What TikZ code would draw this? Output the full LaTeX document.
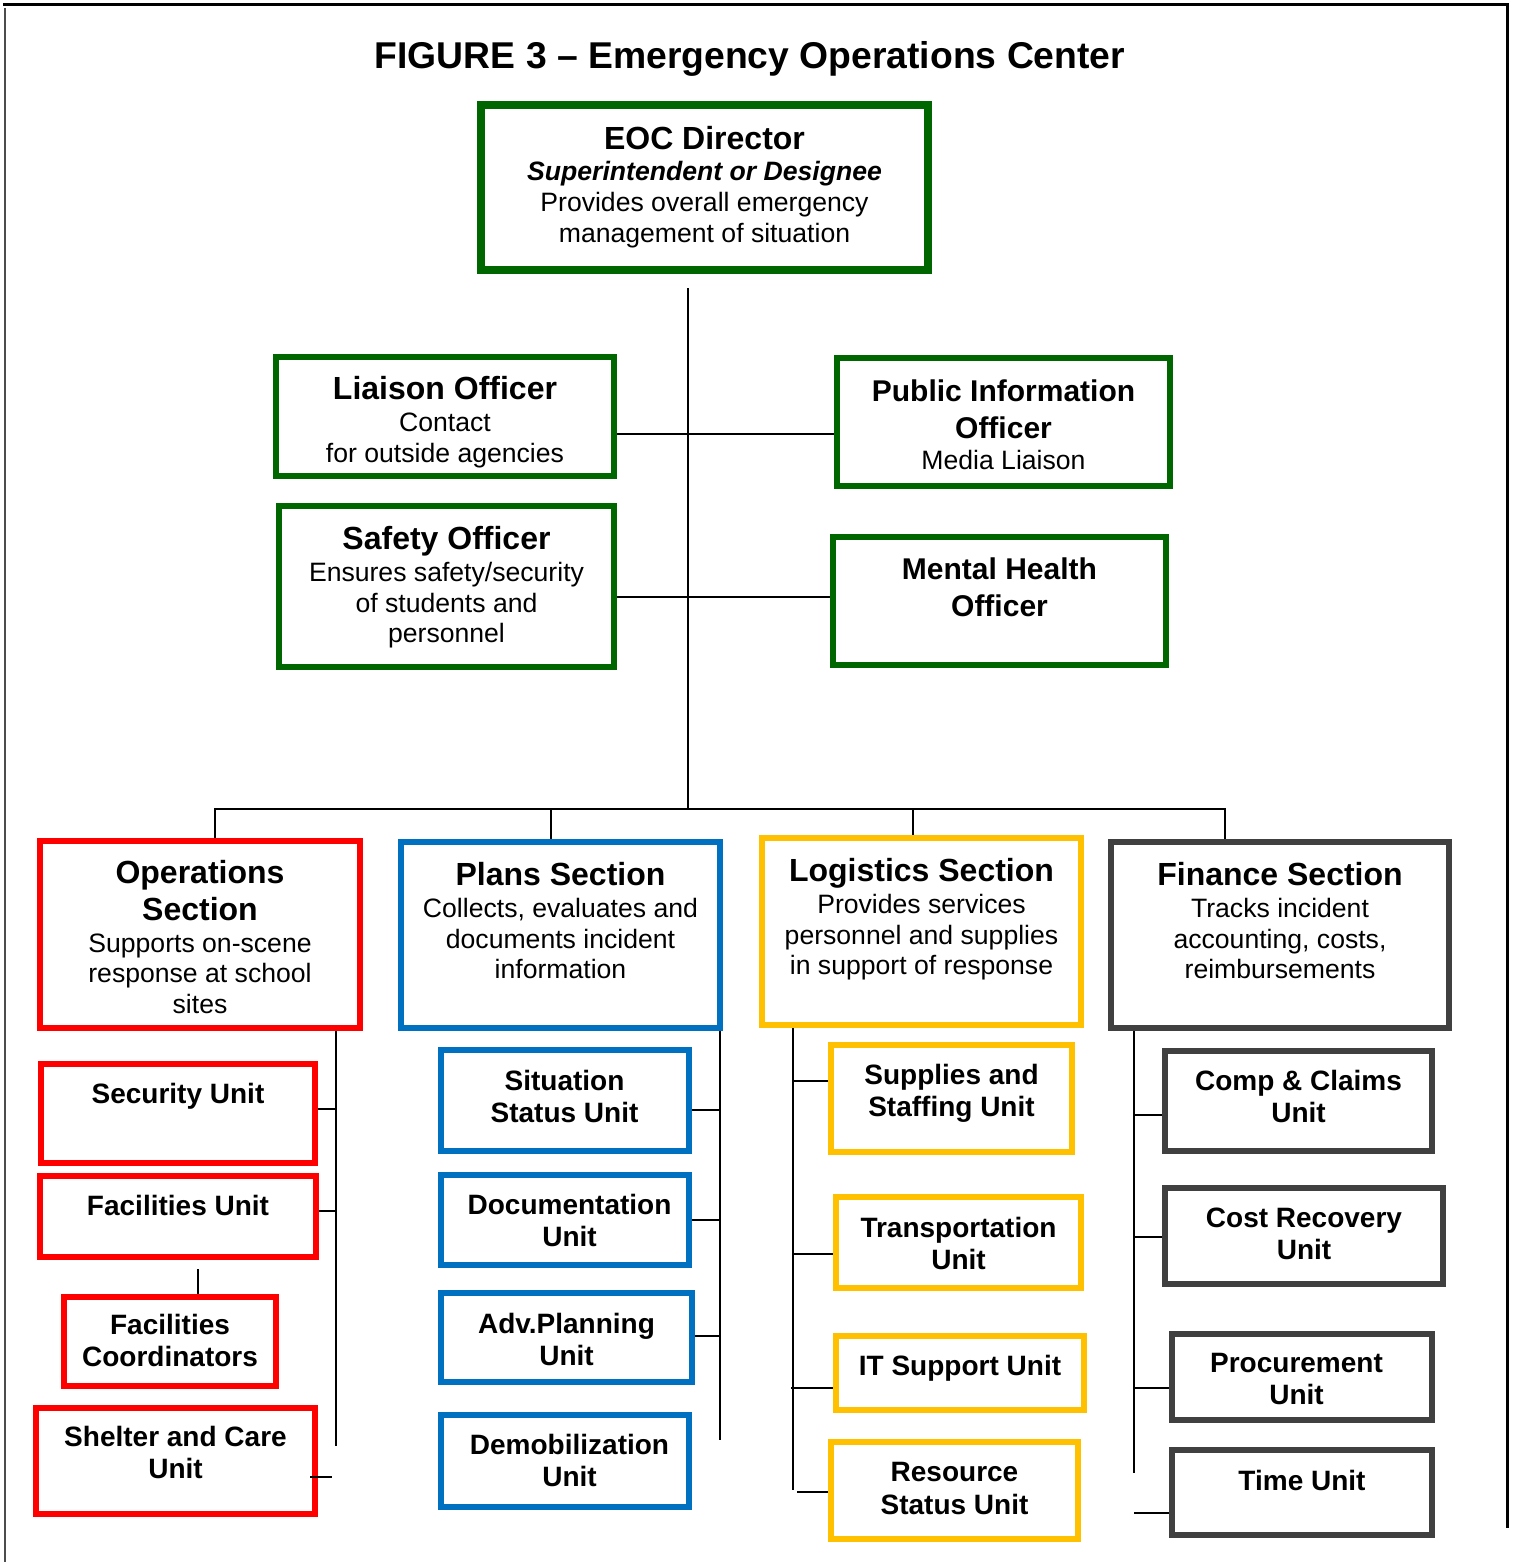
\documentclass[tikz,border=0pt]{standalone}
\usepackage{fontspec}
\setmainfont{Liberation Sans}
\definecolor{cgreen}{RGB}{0,102,0}
\definecolor{cred}{RGB}{255,0,0}
\definecolor{cblue}{RGB}{0,112,192}
\definecolor{cyellow}{RGB}{255,192,0}
\definecolor{cgray}{RGB}{64,64,64}
\newcommand\lnH[1]{{\fontsize{32}{32}\selectfont\bfseries\rule[-7pt]{0pt}{36.8pt}#1}}
\newcommand\lnh[1]{{\fontsize{30}{30}\selectfont\bfseries\rule[-7pt]{0pt}{36.8pt}#1}}
\newcommand\lnB[1]{{\fontsize{26.6}{26.6}\selectfont\rule[-5.85pt]{0pt}{30.6pt}#1}}
\newcommand\lnI[1]{{\fontsize{26.6}{26.6}\selectfont\bfseries\itshape\rule[-5.85pt]{0pt}{30.6pt}#1}}
\newcommand\lnU[1]{{\fontsize{28}{28}\selectfont\bfseries\rule[-6.16pt]{0pt}{32.2pt}#1}}
\newcommand\stk[1]{\vbox{\offinterlineskip\halign{\hfil##\hfil\cr#1\crcr}}}
\tikzset{
  box/.style={draw=#1, line width=6pt, inner sep=0pt, rectangle},
  txt/.style={anchor=north, inner sep=0pt},
  conn/.style={draw=black, line width=2pt},
}
\begin{document}
\begin{tikzpicture}[x=1pt,y=-1pt]
\useasboundingbox (0,0) rectangle (1515,1562);
% frame
\draw[line width=3pt] (3,5) -- (1509,5);
\draw[line width=2.5pt] (1507.5,5) -- (1507.5,1528);
\draw[line width=1.5pt, draw=black!70] (5,8) -- (5,1562);
% title
\node[anchor=base, inner sep=0pt, font=\fontsize{37.3}{40}\selectfont\bfseries] (title) at (750,69) {FIGURE 3 -- Emergency Operations Center};

% top-level boxes
\node[box=cgreen, line width=8pt, minimum width=447, minimum height=165] (eoc) at (704.5,187.5) {};
\node[txt] (eoc-t) at (704.5,119.2) {\stk{\lnH{EOC Director}\cr\lnI{Superintendent or Designee}\cr\lnB{Provides overall emergency}\cr\lnB{management of situation}}};

\node[box=cgreen, minimum width=338, minimum height=119] (liaison) at (445,416.5) {};
\node[txt] (liaison-t) at (445,369.7) {\stk{\lnH{Liaison Officer}\cr\lnB{Contact}\cr\lnB{for outside agencies}}};

\node[box=cgreen, minimum width=333, minimum height=128] (pio) at (1003.5,422) {};
\node[txt] (pio-t) at (1003.5,371.2) {\stk{\lnh{Public Information}\cr\lnh{Officer}\cr\lnB{Media Liaison}}};

\node[box=cgreen, minimum width=335, minimum height=161] (safety) at (446.5,586.5) {};
\node[txt] (safety-t) at (446.5,519.7) {\stk{\lnH{Safety Officer}\cr\lnB{Ensures safety/security}\cr\lnB{of students and}\cr\lnB{personnel}}};

\node[box=cgreen, minimum width=333, minimum height=128] (mh) at (999.5,601) {};
\node[txt] (mh-t) at (999.5,549.7) {\stk{\lnh{Mental Health}\cr\lnh{Officer}}};

% sections
\node[box=cred, minimum width=320, minimum height=187] (ops) at (200,934.5) {};
\node[txt] (ops-t) at (200,853.6) {\stk{\lnH{Operations}\cr\lnH{Section}\cr\lnB{Supports on-scene}\cr\lnB{response at school}\cr\lnB{sites}}};

\node[box=cblue, minimum width=319, minimum height=186] (plans) at (560.5,935) {};
\node[txt] (plans-t) at (560.5,855.7) {\stk{\lnH{Plans Section}\cr\lnB{Collects, evaluates and}\cr\lnB{documents incident}\cr\lnB{information}}};

\node[box=cyellow, minimum width=319, minimum height=187] (log) at (921.5,931.5) {};
\node[txt] (log-t) at (921.5,851.7) {\stk{\lnH{Logistics Section}\cr\lnB{Provides services}\cr\lnB{personnel and supplies}\cr\lnB{in support of response}}};

\node[box=cgray, minimum width=338, minimum height=186] (fin) at (1280,935) {};
\node[txt] (fin-t) at (1280,855.7) {\stk{\lnH{Finance Section}\cr\lnB{Tracks incident}\cr\lnB{accounting, costs,}\cr\lnB{reimbursements}}};

% operations units
\node[box=cred, minimum width=274, minimum height=99] (security) at (178,1113.5) {};
\node[txt] (security-t) at (178,1077) {\stk{\lnU{Security Unit}}};
\node[box=cred, minimum width=276, minimum height=81] (facil) at (178,1216.5) {};
\node[txt] (facil-t) at (178,1189) {\stk{\lnU{Facilities Unit}}};
\node[box=cred, minimum width=212, minimum height=89] (faccoord) at (170,1341.5) {};
\node[txt] (faccoord-t) at (170,1308) {\stk{\lnU{Facilities}\cr\lnU{Coordinators}}};
\node[box=cred, minimum width=279, minimum height=106] (shelter) at (175.5,1461) {};
\node[txt] (shelter-t) at (175.5,1420.2) {\stk{\lnU{Shelter and Care}\cr\lnU{Unit}}};

% plans units
\node[box=cblue, minimum width=248, minimum height=101] (situ) at (565,1100.5) {};
\node[txt] (situ-t) at (564.5,1064) {\stk{\lnU{Situation}\cr\lnU{Status Unit}}};
\node[box=cblue, minimum width=248, minimum height=90] (docu) at (565,1220) {};
\node[txt] (docu-t) at (569.5,1188) {\stk{\lnU{Documentation}\cr\lnU{Unit}}};
\node[box=cblue, minimum width=251, minimum height=89] (advp) at (566.5,1337.5) {};
\node[txt] (advp-t) at (566.5,1307) {\stk{\lnU{Adv.Planning}\cr\lnU{Unit}}};
\node[box=cblue, minimum width=248, minimum height=92] (demob) at (565,1461) {};
\node[txt] (demob-t) at (569.5,1428) {\stk{\lnU{Demobilization}\cr\lnU{Unit}}};

% logistics units
\node[box=cyellow, minimum width=241, minimum height=107] (supp) at (951.5,1098.5) {};
\node[txt] (supp-t) at (951.5,1058) {\stk{\lnU{Supplies and}\cr\lnU{Staffing Unit}}};
\node[box=cyellow, minimum width=245, minimum height=91] (trans) at (958.5,1242.5) {};
\node[txt] (trans-t) at (958.5,1211.2) {\stk{\lnU{Transportation}\cr\lnU{Unit}}};
\node[box=cyellow, minimum width=248, minimum height=74] (itsu) at (960,1373) {};
\node[txt] (itsu-t) at (960,1349) {\stk{\lnU{IT Support Unit}}};
\node[box=cyellow, minimum width=247, minimum height=97] (resu) at (954.5,1490.5) {};
\node[txt] (resu-t) at (954.5,1455.7) {\stk{\lnU{Resource}\cr\lnU{Status Unit}}};

% finance units
\node[box=cgray, minimum width=267, minimum height=100] (comp) at (1298.5,1101) {};
\node[txt] (comp-t) at (1298.5,1064) {\stk{\lnU{Comp \& Claims}\cr\lnU{Unit}}};
\node[box=cgray, minimum width=278, minimum height=96] (cost) at (1304,1236) {};
\node[txt] (cost-t) at (1304,1201.3) {\stk{\lnU{Cost Recovery}\cr\lnU{Unit}}};
\node[box=cgray, minimum width=260, minimum height=86] (proc) at (1302,1377) {};
\node[txt] (proc-t) at (1296.5,1346.3) {\stk{\lnU{Procurement}\cr\lnU{Unit}}};
\node[box=cgray, minimum width=260, minimum height=85] (time) at (1302,1492.5) {};
\node[txt] (time-t) at (1302,1464) {\stk{\lnU{Time Unit}}};

% connector coordinates
\coordinate (trunkTop) at (688,288);
\coordinate (busM) at (688,809);
\coordinate (busL) at (215,809);
\coordinate (busP) at (551,809);
\coordinate (busG) at (913,809);
\coordinate (busR) at (1225,809);
\coordinate (opsV) at (336,1446);
\coordinate (plansV) at (720,1440);
\coordinate (logV) at (793,1490);
\coordinate (finV) at (1134,1473);
\coordinate (fcTop) at (198,1269);

% main tree
\draw[conn] (trunkTop) -- (busM);
\draw[conn] (liaison.east |- 0,434) -- (pio.west |- 0,434);
\draw[conn] (safety.east |- 0,597) -- (mh.west |- 0,597);
\draw[conn] (ops.north -| busL) -- (busL) -- (busR) -- (fin.north -| busR);
\draw[conn] (busP) -- (plans.north -| busP);
\draw[conn] (busG) -- (log.north -| busG);

% operations branch
\draw[conn] (ops.south -| opsV) -- (opsV);
\draw[conn] (security.east |- 0,1109) -- (opsV |- 0,1109);
\draw[conn] (facil.east |- 0,1211) -- (opsV |- 0,1211);
\draw[conn] (fcTop) -- (faccoord.north -| fcTop);
\draw[conn] (shelter.east |- 0,1477) ++(-8,0) -- (332,1477);

% plans branch
\draw[conn] (plans.south -| plansV) -- (plansV);
\draw[conn] (situ.east |- 0,1110) -- (plansV |- 0,1110);
\draw[conn] (docu.east |- 0,1220) -- (plansV |- 0,1220);
\draw[conn] (advp.east |- 0,1336) -- (plansV |- 0,1336);

% logistics branch
\draw[conn] (log.south -| logV) -- (logV);
\draw[conn] (logV |- 0,1081) -- (supp.west |- 0,1081);
\draw[conn] (logV |- 0,1254) -- (trans.west |- 0,1254);
\draw[conn] (logV |- 0,1388) ++(-2,0) -- (itsu.west |- 0,1388);
\draw[conn] (logV |- 0,1492) ++(4,0) -- (resu.west |- 0,1492);

% finance branch
\draw[conn] (fin.south -| finV) -- (finV);
\draw[conn] (finV |- 0,1115) -- (comp.west |- 0,1115);
\draw[conn] (finV |- 0,1237) -- (cost.west |- 0,1237);
\draw[conn] (finV |- 0,1388) -- (proc.west |- 0,1388);
\draw[conn] (finV |- 0,1513) -- (time.west |- 0,1513);
\end{tikzpicture}
\end{document}
